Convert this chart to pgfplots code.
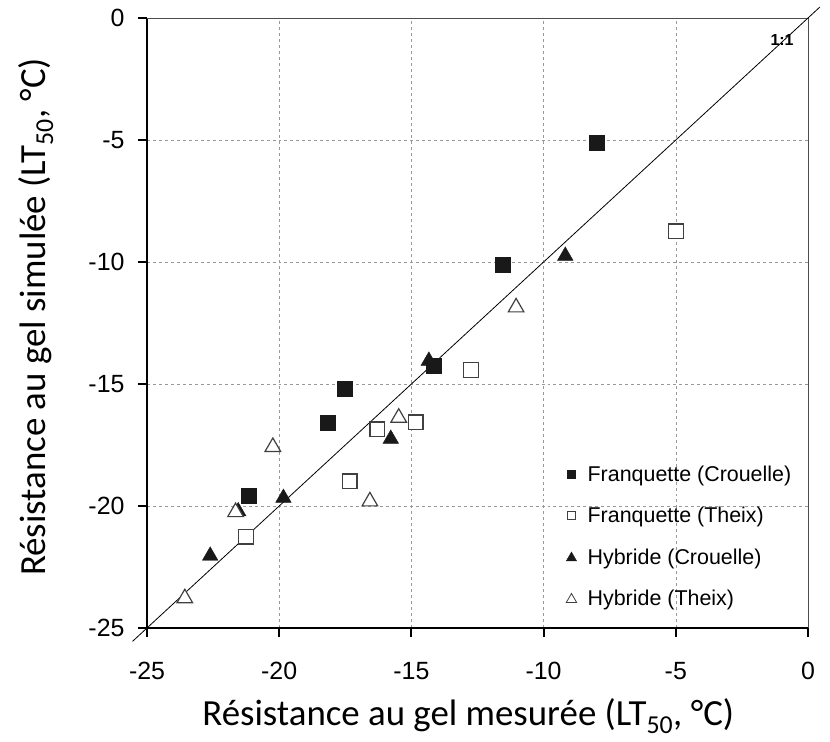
\documentclass[border=0pt]{standalone}
\usepackage{pgfplots}
\pgfplotsset{compat=1.18}
\usepackage{fontspec}
\setmainfont{Liberation Sans}
\newfontfamily\carlito{Carlito}

\pgfplotsset{
  sqleg/.style={legend image code/.code={\draw[##1] plot coordinates {(0bp,0bp)};}},
  trleg/.style={legend image code/.code={\draw[##1] plot coordinates {(0bp,-1bp)};}},
}

\pgfplotstableread{
x y
-8.0 -5.12
-11.55 -10.12
-14.14 -14.24
-17.53 -15.19
-18.15 -16.57
-21.14 -19.59
}\FC
\pgfplotstableread{
x y
-5.0 -8.74
-12.75 -14.42
-14.84 -16.57
-16.29 -16.86
-17.33 -18.99
-21.25 -21.26
}\FT
\pgfplotstableread{
x y
-9.18 -9.75
-14.34 -14.05
-15.78 -17.25
-19.84 -19.67
-21.55 -20.22
-22.61 -22.04
}\HC
\pgfplotstableread{
x y
-11.04 -11.86
-15.48 -16.38
-16.57 -19.81
-20.24 -17.58
-21.65 -20.25
-23.57 -23.78
}\HT

\begin{document}
\begin{tikzpicture}
\begin{axis}[
  scale only axis, width=661bp, height=610bp,
  xmin=-25, xmax=0, ymin=-25, ymax=0,
  axis lines=left, axis line style={line width=2.2bp, -},
  xtick={-25,-20,-15,-10,-5,0}, ytick={-25,-20,-15,-10,-5,0},
  xticklabels={-25,-20,-15,-10,-5,0}, yticklabels={-25,-20,-15,-10,-5,0},
  tick align=outside, major tick length=9bp,
  tick style={line width=2bp, black},
  grid=major, major grid style={dashed, black!40, line width=0.6bp},
  clip=false,
  tick label style={font=\fontsize{25}{29}\selectfont},
  xticklabel style={yshift=-22bp},
  yticklabel style={xshift=-10bp},
  xlabel={\carlito\fontsize{37}{42}\selectfont Résistance au gel mesurée (LT\textsubscript{50}, °C)},
  ylabel={\carlito\fontsize{37}{42}\selectfont Résistance au gel simulée (LT\textsubscript{50}, °C)},
  xlabel style={at={(axis description cs:0.486,-0.16)}, anchor=base},
  ylabel style={at={(axis description cs:-0.1543,0.51)}, anchor=base, rotate=0},
  legend style={draw=none, fill=none, at={(rel axis cs:0.634,0.27)}, anchor=north west,
    font=\fontsize{21.5}{25}\selectfont, row sep=20.5bp, inner sep=0pt,
    /tikz/every odd column/.append style={column sep=9bp}},
  legend cell align=left,
]
\addlegendimage{only marks, mark=square*, mark size=4.2bp, draw=black!90, fill=black!90, sqleg}
\addlegendentry{Franquette (Crouelle)}
\addlegendimage{only marks, mark=square*, mark size=4.2bp, draw=black!75, fill=white, line width=0.8bp, sqleg}
\addlegendentry{Franquette (Theix)}
\addlegendimage{only marks, mark=triangle*, mark size=6bp, draw=black!90, fill=black!90, trleg}
\addlegendentry{Hybride (Crouelle)}
\addlegendimage{only marks, mark=triangle*, mark size=6bp, draw=black!75, fill=white, line width=0.8bp, trleg}
\addlegendentry{Hybride (Theix)}

\draw[black!70, line width=0.8bp] (rel axis cs:0,1) -- (rel axis cs:1,1) -- (rel axis cs:1,0);
\addplot[black, line width=0.8bp, forget plot] coordinates {(-25.55,-25.55) (0.45,0.45)};
\node[font=\bfseries\fontsize{16}{18}\selectfont] at (axis cs:-0.98,-0.9) {1:1};

\addplot[only marks, mark=triangle*, mark size=9bp, draw=black!90, fill=black!90, forget plot] table {\HC};
\addplot[only marks, mark=triangle*, mark size=9bp, draw=black!75, fill=white, line width=1.2bp, forget plot] table {\HT};
\addplot[only marks, mark=square*, mark size=7.3bp, draw=black!75, fill=white, line width=1.2bp, forget plot] table {\FT};
\addplot[only marks, mark=square*, mark size=7.5bp, draw=black!90, fill=black!90, forget plot] table {\FC};
\end{axis}
\pgfresetboundingbox
\path (-147bp,-114bp) rectangle (683bp,628bp);
\end{tikzpicture}
\end{document}
